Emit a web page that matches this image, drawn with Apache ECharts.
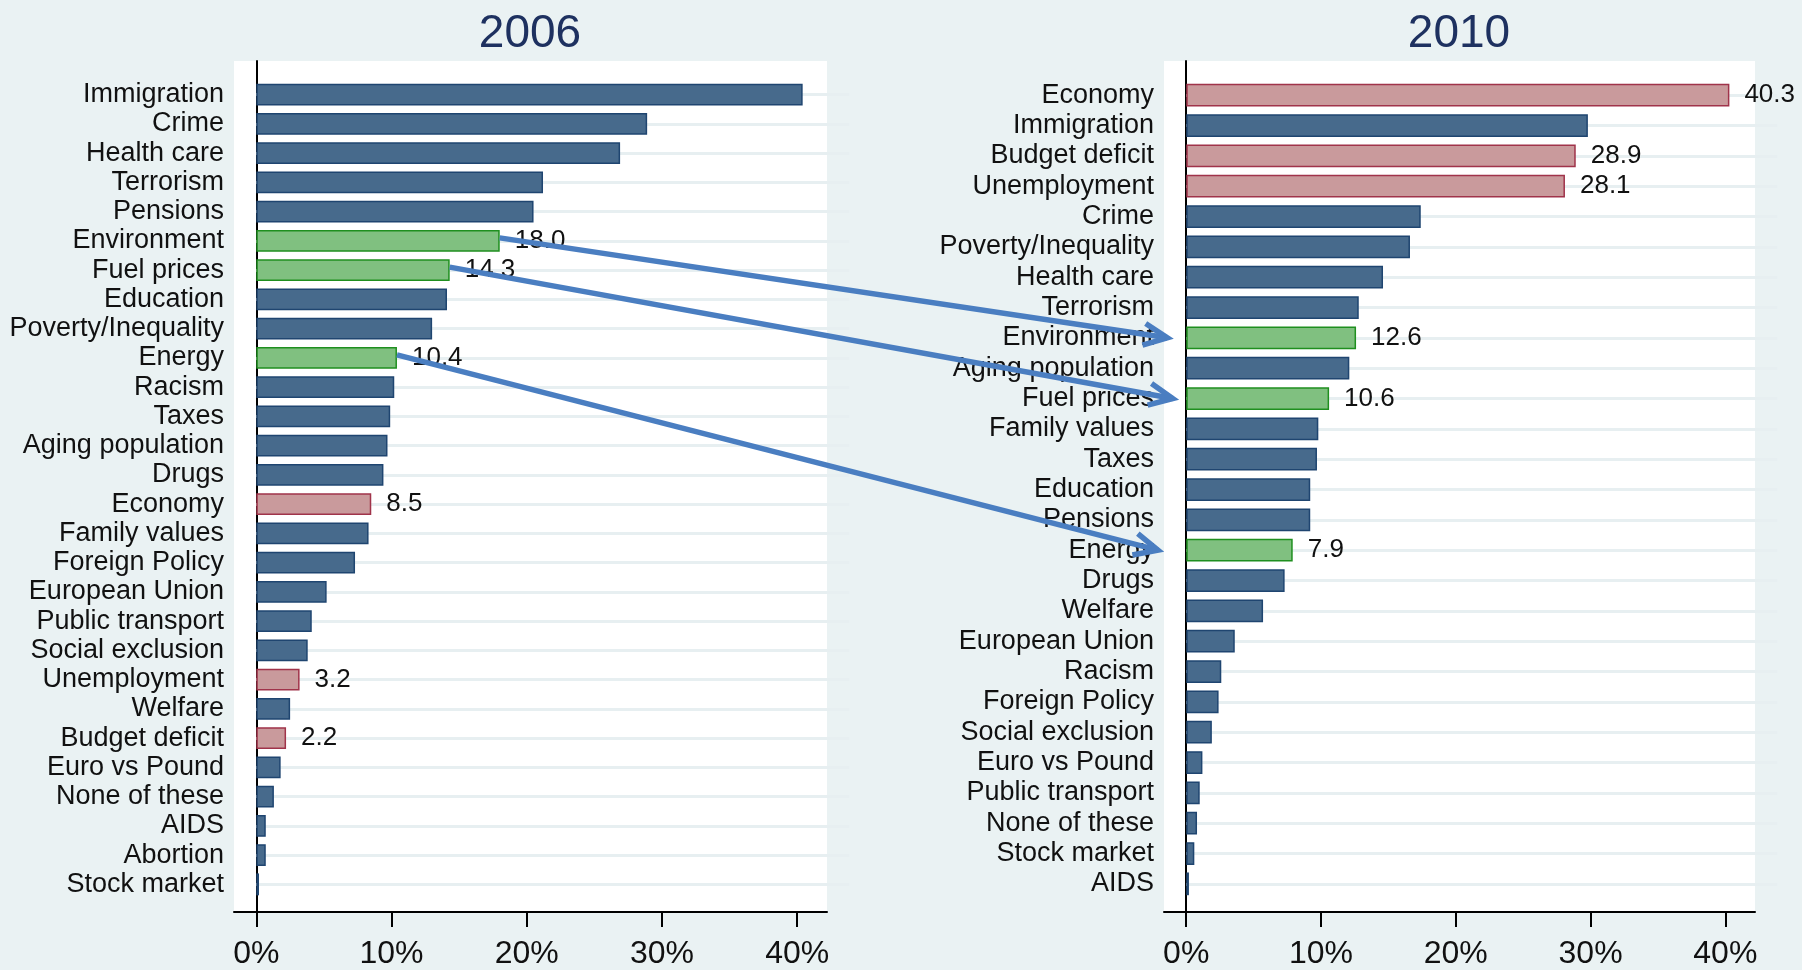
<!DOCTYPE html>
<html lang="en">
<head>
    <meta charset="utf-8">
    <title>Most important issues 2006 vs 2010</title>
    <script src="https://cdn.jsdelivr.net/npm/echarts@6/dist/echarts.min.js"></script>
    <style>
        html, body { margin: 0; padding: 0; background: #eaf2f3; }
        #chart { width: 1802px; height: 970px; }
    </style>
</head>
<body>
<div id="chart"></div>
<script>
// 2006 survey, share of respondents (%)
var cats2006 = ['Immigration', 'Crime', 'Health care', 'Terrorism', 'Pensions', 'Environment',
    'Fuel prices', 'Education', 'Poverty/Inequality', 'Energy', 'Racism', 'Taxes',
    'Aging population', 'Drugs', 'Economy', 'Family values', 'Foreign Policy', 'European Union',
    'Public transport', 'Social exclusion', 'Unemployment', 'Welfare', 'Budget deficit',
    'Euro vs Pound', 'None of these', 'AIDS', 'Abortion', 'Stock market'];
var vals2006 = [40.4, 28.9, 26.9, 21.2, 20.5, 18.0, 14.3, 14.1, 13.0, 10.4, 10.2, 9.9,
    9.7, 9.4, 8.5, 8.3, 7.3, 5.2, 4.1, 3.8, 3.2, 2.5, 2.2, 1.8, 1.3, 0.7, 0.7, 0.2];

// 2010 survey
var cats2010 = ['Economy', 'Immigration', 'Budget deficit', 'Unemployment', 'Crime',
    'Poverty/Inequality', 'Health care', 'Terrorism', 'Environment', 'Aging population',
    'Fuel prices', 'Family values', 'Taxes', 'Education', 'Pensions', 'Energy', 'Drugs',
    'Welfare', 'European Union', 'Racism', 'Foreign Policy', 'Social exclusion',
    'Euro vs Pound', 'Public transport', 'None of these', 'Stock market', 'AIDS'];
var vals2010 = [40.3, 29.8, 28.9, 28.1, 17.4, 16.6, 14.6, 12.8, 12.6, 12.1, 10.6, 9.8,
    9.7, 9.2, 9.2, 7.9, 7.3, 5.7, 3.6, 2.6, 2.4, 1.9, 1.2, 1.0, 0.8, 0.6, 0.2];

var greenTopics = ['Environment', 'Fuel prices', 'Energy'];
var redTopics = ['Economy', 'Unemployment', 'Budget deficit'];
var xTicks = [0, 10, 20, 30, 40];

// arrows go from the 2006 bar end to the 2010 axis
var arrowTopics = ['Environment', 'Fuel prices', 'Energy'];
var arrowEndX = [-1.4, -1.0, -2.1];

var FONT = "'Liberation Sans', Arial, sans-serif";
var XMIN = -1.65, XMAX = 42.2;

function barData(cats, vals) {
    return cats.map(function (c, i) {
        var item = {value: vals[i]};
        if (greenTopics.indexOf(c) >= 0) {
            item.itemStyle = {color: '#80c080', borderColor: '#1f8f1f'};
            item.label = {show: true};
        } else if (redTopics.indexOf(c) >= 0) {
            item.itemStyle = {color: '#c99a9c', borderColor: '#a0334a'};
            item.label = {show: true};
        }
        return item;
    });
}

function outerAxes(gi) {
    return {
        x: {
            type: 'value', gridIndex: gi, min: XMIN, max: XMAX,
            axisLine: {show: true, lineStyle: {color: '#000', width: 2}},
            axisTick: {show: true, customValues: xTicks, length: 15, lineStyle: {color: '#000', width: 2}},
            axisLabel: {customValues: xTicks, formatter: '{value}%', fontSize: 32, color: '#111', fontFamily: FONT, margin: 26},
            splitLine: {show: false}
        },
        y: {
            type: 'value', gridIndex: gi, min: 0, max: 1,
            axisLine: {show: true, lineStyle: {color: '#000', width: 2}},
            axisTick: {show: false}, axisLabel: {show: false}, splitLine: {show: false}
        }
    };
}

function innerAxes(gi, cats, w) {
    return {
        x: {type: 'value', gridIndex: gi, min: XMIN, max: XMAX, show: false},
        y: {
            type: 'category', gridIndex: gi, data: cats, inverse: true,
            axisLine: {show: false},
            axisTick: {show: true, inside: true, alignWithLabel: true, interval: 0, length: w,
                lineStyle: {color: '#e7eff1', width: 3}},
            axisLabel: {interval: 0, fontSize: 27, color: '#111', fontFamily: FONT, margin: 10,
                padding: [3, 0, 0, 0]},
            splitLine: {show: false}
        }
    };
}

var oL = outerAxes(0), iL = innerAxes(1, cats2006, 593);
var oR = outerAxes(2), iR = innerAxes(3, cats2010, 591);

var chart = echarts.init(document.getElementById('chart'));
chart.setOption({
    animation: false,
    backgroundColor: '#eaf2f3',
    title: [
        {text: '2006', left: 530, top: 11, textAlign: 'center', padding: 0,
            textStyle: {fontSize: 46, fontWeight: 'normal', color: '#1e3160', fontFamily: FONT}},
        {text: '2010', left: 1459, top: 11, textAlign: 'center', padding: 0,
            textStyle: {fontSize: 46, fontWeight: 'normal', color: '#1e3160', fontFamily: FONT}}
    ],
    grid: [
        {left: 234, right: 975, top: 61, bottom: 55, show: true, backgroundColor: '#fff', borderWidth: 0},
        {left: 234, right: 975, top: 80, bottom: 71},
        {left: 1164, right: 47, top: 61, bottom: 55, show: true, backgroundColor: '#fff', borderWidth: 0},
        {left: 1164, right: 47, top: 80, bottom: 71}
    ],
    xAxis: [oL.x, iL.x, oR.x, iR.x],
    yAxis: [oL.y, iL.y, oR.y, iR.y],
    series: [
        {
            type: 'bar', xAxisIndex: 1, yAxisIndex: 1, barCategoryGap: '25%',
            data: barData(cats2006, vals2006),
            itemStyle: {color: '#476a8c', borderColor: '#1f4570', borderWidth: 1.5},
            label: {show: false, position: 'right', distance: 15, fontSize: 26, color: '#111', fontFamily: FONT,
                formatter: function (p) { return p.value.toFixed(1); }}
        },
        {
            type: 'bar', xAxisIndex: 3, yAxisIndex: 3, barCategoryGap: '25%',
            data: barData(cats2010, vals2010),
            itemStyle: {color: '#476a8c', borderColor: '#1f4570', borderWidth: 1.5},
            label: {show: false, position: 'right', distance: 15, fontSize: 26, color: '#111', fontFamily: FONT,
                formatter: function (p) { return p.value.toFixed(1); }}
        }
    ]
});

// arrows, placed with the chart's own coordinate conversion
function drawArrows() {
    var els = [];
    arrowTopics.forEach(function (name, k) {
        var v = vals2006[cats2006.indexOf(name)];
        var p0 = chart.convertToPixel({xAxisIndex: 1, yAxisIndex: 1}, [v, name]);
        var p1 = chart.convertToPixel({xAxisIndex: 3, yAxisIndex: 3}, [arrowEndX[k], name]);
        p0[1] -= 3;
        var ang = Math.atan2(p1[1] - p0[1], p1[0] - p0[0]);
        var len = 26, spread = 25 * Math.PI / 180;
        var w1 = [p1[0] - len * Math.cos(ang - spread), p1[1] - len * Math.sin(ang - spread)];
        var w2 = [p1[0] - len * Math.cos(ang + spread), p1[1] - len * Math.sin(ang + spread)];
        var st = {stroke: '#4a7ec1', lineWidth: 5.5, lineJoin: 'miter'};
        els.push({type: 'line', z: 100, shape: {x1: p0[0], y1: p0[1], x2: p1[0], y2: p1[1]}, style: st});
        els.push({type: 'polyline', z: 100, shape: {points: [w1, p1, w2]}, style: st});
    });
    chart.setOption({graphic: els});
}
drawArrows();
</script>
</body>
</html>
